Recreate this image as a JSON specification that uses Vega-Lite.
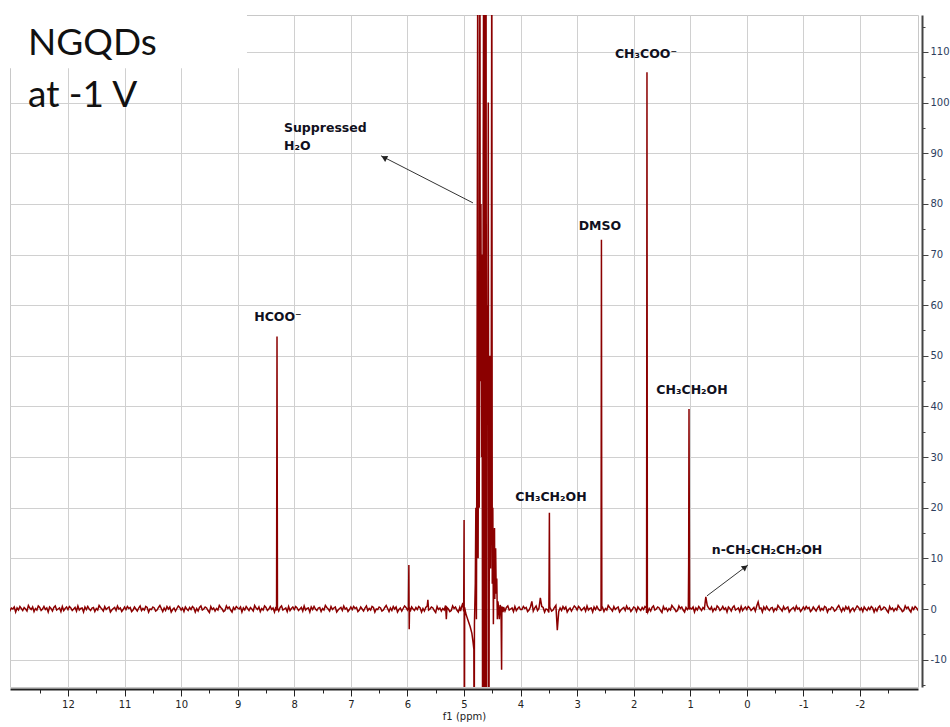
{
  "$schema": "https://vega.github.io/schema/vega-lite/v6.json",
  "width": 908,
  "height": 672,
  "autosize": {"type": "none"},
  "padding": {"left": 10, "top": 15, "right": 32, "bottom": 40},
  "background": "white",
  "config": {
    "view": {"stroke": "#c8c8c8", "strokeWidth": 1},
    "axis": {"labelFont": "DejaVu Sans", "titleFont": "DejaVu Sans"},
    "locale": {"number": {"decimal": ".", "thousands": ",", "grouping": [3], "currency": ["$", ""], "minus": "-"}}
  },
  "resolve": {"axis": {"x": "independent", "y": "independent"}},
  "datasets": {
    "spectrum": [
      {"ppm":-3.05,"int":0.1},{"ppm":-3.025,"int":-0.2},
      {"ppm":-3.0,"int":0.2},{"ppm":-2.975,"int":0.5},{"ppm":-2.95,"int":-0.1},{"ppm":-2.925,"int":0.3},{"ppm":-2.9,"int":-0.6},{"ppm":-2.875,"int":-0.2},{"ppm":-2.85,"int":0.4},{"ppm":-2.825,"int":0.1},{"ppm":-2.8,"int":0.6},{"ppm":-2.775,"int":-0.3},{"ppm":-2.75,"int":-0.5},{"ppm":-2.725,"int":0.0},{"ppm":-2.7,"int":0.3},{"ppm":-2.675,"int":0.7},{"ppm":-2.65,"int":-0.2},{"ppm":-2.625,"int":0.1},{"ppm":-2.6,"int":-0.4},{"ppm":-2.575,"int":0.2},{"ppm":-2.55,"int":-0.1},{"ppm":-2.525,"int":0.5},{"ppm":-2.5,"int":-0.7},{"ppm":-2.475,"int":-0.3},{"ppm":-2.45,"int":0.2},{"ppm":-2.425,"int":0.4},{"ppm":-2.4,"int":0.0},{"ppm":-2.375,"int":-0.2},{"ppm":-2.35,"int":0.6},{"ppm":-2.325,"int":0.3},{"ppm":-2.3,"int":-0.4},{"ppm":-2.275,"int":0.1},{"ppm":-2.25,"int":-0.6},{"ppm":-2.225,"int":0.2},{"ppm":-2.2,"int":0.5},{"ppm":-2.175,"int":-0.1},{"ppm":-2.15,"int":0.3},{"ppm":-2.125,"int":-0.3},{"ppm":-2.1,"int":0.0},{"ppm":-2.075,"int":0.4},{"ppm":-2.05,"int":-0.5},{"ppm":-2.025,"int":0.2},
      {"ppm":-2.0,"int":-0.2},{"ppm":-1.975,"int":0.3},{"ppm":-1.95,"int":0.6},{"ppm":-1.925,"int":0.1},{"ppm":-1.9,"int":-0.4},{"ppm":-1.875,"int":0.2},{"ppm":-1.85,"int":-0.1},{"ppm":-1.825,"int":-0.6},{"ppm":-1.8,"int":0.4},{"ppm":-1.775,"int":0.0},{"ppm":-1.75,"int":0.5},{"ppm":-1.725,"int":-0.3},{"ppm":-1.7,"int":0.2},{"ppm":-1.675,"int":-0.5},{"ppm":-1.65,"int":0.1},{"ppm":-1.625,"int":0.7},{"ppm":-1.6,"int":0.3},{"ppm":-1.575,"int":-0.2},{"ppm":-1.55,"int":-0.4},{"ppm":-1.525,"int":0.2},{"ppm":-1.5,"int":0.4},{"ppm":-1.475,"int":-0.1},{"ppm":-1.45,"int":0.0},{"ppm":-1.425,"int":-0.6},{"ppm":-1.4,"int":0.3},{"ppm":-1.375,"int":0.5},{"ppm":-1.35,"int":-0.2},{"ppm":-1.325,"int":0.1},{"ppm":-1.3,"int":-0.3},{"ppm":-1.275,"int":0.6},{"ppm":-1.25,"int":0.2},{"ppm":-1.225,"int":-0.4},{"ppm":-1.2,"int":0.0},{"ppm":-1.175,"int":0.4},{"ppm":-1.15,"int":-0.2},{"ppm":-1.125,"int":-0.5},{"ppm":-1.1,"int":0.3},{"ppm":-1.075,"int":0.1},{"ppm":-1.05,"int":0.5},{"ppm":-1.025,"int":-0.1},
      {"ppm":-1.0,"int":0.4},{"ppm":-0.975,"int":-0.1},{"ppm":-0.95,"int":-0.5},{"ppm":-0.925,"int":0.2},{"ppm":-0.9,"int":0.0},{"ppm":-0.875,"int":0.6},{"ppm":-0.85,"int":-0.3},{"ppm":-0.825,"int":0.3},{"ppm":-0.8,"int":0.1},{"ppm":-0.775,"int":-0.2},{"ppm":-0.75,"int":-0.6},{"ppm":-0.725,"int":0.4},{"ppm":-0.7,"int":0.2},{"ppm":-0.675,"int":-0.1},{"ppm":-0.65,"int":0.5},{"ppm":-0.625,"int":-0.4},{"ppm":-0.6,"int":0.0},{"ppm":-0.575,"int":0.3},{"ppm":-0.55,"int":0.7},{"ppm":-0.525,"int":-0.2},{"ppm":-0.5,"int":0.1},{"ppm":-0.475,"int":-0.5},{"ppm":-0.45,"int":0.3},{"ppm":-0.425,"int":0.2},{"ppm":-0.4,"int":-0.3},{"ppm":-0.375,"int":0.0},{"ppm":-0.35,"int":0.5},{"ppm":-0.325,"int":-0.1},{"ppm":-0.3,"int":0.4},{"ppm":-0.275,"int":-0.6},{"ppm":-0.25,"int":0.2},{"ppm":-0.225,"int":0.1},{"ppm":-0.2,"int":1.4},{"ppm":-0.175,"int":0.6},{"ppm":-0.15,"int":-0.4},{"ppm":-0.125,"int":0.3},{"ppm":-0.1,"int":0.0},{"ppm":-0.075,"int":-0.3},{"ppm":-0.05,"int":0.2},{"ppm":-0.025,"int":0.5},
      {"ppm":0.0,"int":-0.1},{"ppm":0.025,"int":0.4},{"ppm":0.05,"int":0.1},{"ppm":0.075,"int":-0.3},{"ppm":0.1,"int":0.5},{"ppm":0.125,"int":-0.5},{"ppm":0.15,"int":0.2},{"ppm":0.175,"int":0.0},{"ppm":0.2,"int":-0.2},{"ppm":0.225,"int":0.6},{"ppm":0.25,"int":0.3},{"ppm":0.275,"int":-0.4},{"ppm":0.3,"int":0.1},{"ppm":0.325,"int":0.4},{"ppm":0.35,"int":-0.6},{"ppm":0.375,"int":0.2},{"ppm":0.4,"int":-0.1},{"ppm":0.425,"int":0.5},{"ppm":0.45,"int":0.0},{"ppm":0.475,"int":-0.3},{"ppm":0.5,"int":0.3},{"ppm":0.525,"int":0.6},{"ppm":0.55,"int":-0.2},{"ppm":0.575,"int":0.1},{"ppm":0.6,"int":-0.5},{"ppm":0.625,"int":0.4},{"ppm":0.65,"int":-0.1},{"ppm":0.675,"int":0.2},{"ppm":0.7,"int":0.7},{"ppm":0.725,"int":2.4},{"ppm":0.75,"int":0.0},{"ppm":0.775,"int":0.3},{"ppm":0.8,"int":-0.3},{"ppm":0.825,"int":0.1},{"ppm":0.85,"int":0.5},{"ppm":0.875,"int":-0.2},{"ppm":0.9,"int":0.2},{"ppm":0.925,"int":-0.6},{"ppm":0.95,"int":0.4},{"ppm":0.975,"int":0.0},
      {"ppm":1.0,"int":0.2},{"ppm":1.012,"int":-0.1},{"ppm":1.022,"int":39.5},{"ppm":1.028,"int":9.0},{"ppm":1.034,"int":0.2},{"ppm":1.05,"int":-0.1},{"ppm":1.075,"int":0.3},{"ppm":1.1,"int":-0.6},{"ppm":1.125,"int":-0.2},{"ppm":1.15,"int":0.4},{"ppm":1.175,"int":0.1},{"ppm":1.2,"int":0.6},{"ppm":1.225,"int":-0.3},{"ppm":1.25,"int":-0.5},{"ppm":1.275,"int":0.0},{"ppm":1.3,"int":0.3},{"ppm":1.325,"int":0.7},{"ppm":1.35,"int":-0.2},{"ppm":1.375,"int":0.1},{"ppm":1.4,"int":-0.4},{"ppm":1.425,"int":0.2},{"ppm":1.45,"int":-0.1},{"ppm":1.475,"int":0.5},{"ppm":1.5,"int":-0.7},{"ppm":1.525,"int":-0.3},{"ppm":1.55,"int":0.2},{"ppm":1.575,"int":0.4},{"ppm":1.6,"int":0.0},{"ppm":1.625,"int":-0.2},{"ppm":1.65,"int":0.6},{"ppm":1.675,"int":0.3},{"ppm":1.7,"int":-0.4},{"ppm":1.725,"int":0.1},{"ppm":1.75,"int":-0.6},{"ppm":1.758,"int":0.1},{"ppm":1.765,"int":106.0},{"ppm":1.772,"int":-0.8},{"ppm":1.775,"int":0.2},{"ppm":1.8,"int":0.5},{"ppm":1.825,"int":-0.1},{"ppm":1.85,"int":0.3},{"ppm":1.875,"int":-0.3},{"ppm":1.9,"int":0.0},{"ppm":1.925,"int":0.4},{"ppm":1.95,"int":-0.5},{"ppm":1.975,"int":0.2},
      {"ppm":2.0,"int":0.4},{"ppm":2.025,"int":-0.1},{"ppm":2.05,"int":-0.5},{"ppm":2.075,"int":0.2},{"ppm":2.1,"int":0.0},{"ppm":2.125,"int":0.6},{"ppm":2.15,"int":-0.3},{"ppm":2.175,"int":0.3},{"ppm":2.2,"int":0.1},{"ppm":2.225,"int":-0.2},{"ppm":2.25,"int":-0.6},{"ppm":2.275,"int":0.4},{"ppm":2.3,"int":0.2},{"ppm":2.325,"int":-0.1},{"ppm":2.35,"int":0.5},{"ppm":2.375,"int":-0.4},{"ppm":2.4,"int":0.0},{"ppm":2.425,"int":0.3},{"ppm":2.45,"int":0.7},{"ppm":2.475,"int":-0.2},{"ppm":2.5,"int":0.1},{"ppm":2.525,"int":-0.5},{"ppm":2.55,"int":0.3},{"ppm":2.563,"int":0.2},{"ppm":2.57,"int":72.9},{"ppm":2.577,"int":-0.2},{"ppm":2.6,"int":-0.3},{"ppm":2.625,"int":0.0},{"ppm":2.65,"int":0.5},{"ppm":2.675,"int":-0.1},{"ppm":2.7,"int":0.4},{"ppm":2.725,"int":-0.6},{"ppm":2.75,"int":0.2},{"ppm":2.775,"int":0.1},{"ppm":2.8,"int":-0.2},{"ppm":2.825,"int":0.6},{"ppm":2.85,"int":-0.4},{"ppm":2.875,"int":0.3},{"ppm":2.9,"int":0.0},{"ppm":2.925,"int":-0.3},{"ppm":2.95,"int":0.2},{"ppm":2.975,"int":0.5},
      {"ppm":3.0,"int":-0.2},{"ppm":3.025,"int":0.3},{"ppm":3.05,"int":0.6},{"ppm":3.075,"int":0.1},{"ppm":3.1,"int":-0.4},{"ppm":3.125,"int":0.2},{"ppm":3.15,"int":-0.1},{"ppm":3.175,"int":-0.6},{"ppm":3.2,"int":0.4},{"ppm":3.225,"int":0.0},{"ppm":3.25,"int":0.5},{"ppm":3.275,"int":-0.3},{"ppm":3.3,"int":0.2},{"ppm":3.325,"int":-0.5},{"ppm":3.35,"int":-4.2},{"ppm":3.375,"int":0.7},{"ppm":3.4,"int":0.3},{"ppm":3.425,"int":-0.2},{"ppm":3.45,"int":-0.4},{"ppm":3.475,"int":0.2},{"ppm":3.483,"int":0.5},{"ppm":3.49,"int":19.0},{"ppm":3.496,"int":5.0},{"ppm":3.5,"int":-0.7},{"ppm":3.525,"int":-0.1},{"ppm":3.55,"int":0.0},{"ppm":3.575,"int":-0.6},{"ppm":3.6,"int":0.3},{"ppm":3.625,"int":0.5},{"ppm":3.65,"int":2.2},{"ppm":3.675,"int":0.1},{"ppm":3.7,"int":-0.3},{"ppm":3.725,"int":0.6},{"ppm":3.75,"int":0.2},{"ppm":3.775,"int":-0.4},{"ppm":3.8,"int":1.5},{"ppm":3.825,"int":0.4},{"ppm":3.85,"int":-0.2},{"ppm":3.875,"int":-0.5},{"ppm":3.9,"int":0.3},{"ppm":3.925,"int":0.1},{"ppm":3.95,"int":0.5},{"ppm":3.975,"int":-0.1},
      {"ppm":4.0,"int":-0.1},{"ppm":4.025,"int":0.4},{"ppm":4.05,"int":0.1},{"ppm":4.075,"int":-0.3},{"ppm":4.1,"int":0.5},{"ppm":4.125,"int":-0.5},{"ppm":4.15,"int":0.2},{"ppm":4.175,"int":0.0},{"ppm":4.2,"int":-0.2},{"ppm":4.225,"int":0.6},{"ppm":4.25,"int":0.3},{"ppm":4.275,"int":-0.4},
      {"ppm":4.3,"int":0.4},{"ppm":4.31,"int":-0.6},{"ppm":4.33,"int":0.5},{"ppm":4.335,"int":-12},{"ppm":4.345,"int":0.2},{"ppm":4.36,"int":0.8},{"ppm":4.375,"int":-2},{"ppm":4.39,"int":0.5},{"ppm":4.4,"int":1.5},{"ppm":4.41,"int":-2},{"ppm":4.42,"int":6},{"ppm":4.43,"int":3},{"ppm":4.44,"int":12},{"ppm":4.45,"int":8},{"ppm":4.455,"int":2},{"ppm":4.46,"int":16},{"ppm":4.47,"int":12},{"ppm":4.48,"int":-3},{"ppm":4.49,"int":20},{"ppm":4.5,"int":5},{"ppm":4.508,"int":140},{"ppm":4.52,"int":25},{"ppm":4.53,"int":8},{"ppm":4.54,"int":50},{"ppm":4.55,"int":30},{"ppm":4.56,"int":-40},{"ppm":4.57,"int":100},{"ppm":4.58,"int":40},{"ppm":4.59,"int":60},{"ppm":4.6,"int":-40},{"ppm":4.61,"int":140},{"ppm":4.625,"int":-40},{"ppm":4.635,"int":140},{"ppm":4.645,"int":-40},{"ppm":4.65,"int":140},{"ppm":4.66,"int":90},{"ppm":4.67,"int":-40},{"ppm":4.68,"int":70},{"ppm":4.69,"int":30},{"ppm":4.7,"int":80},{"ppm":4.712,"int":45},{"ppm":4.718,"int":140},{"ppm":4.73,"int":20},{"ppm":4.74,"int":60},{"ppm":4.75,"int":10},{"ppm":4.755,"int":140},{"ppm":4.77,"int":40},{"ppm":4.78,"int":-2},{"ppm":4.79,"int":20},{"ppm":4.8,"int":5},{"ppm":4.815,"int":-3},{"ppm":4.82,"int":-40},{"ppm":4.825,"int":-8},{"ppm":4.84,"int":-6.5},{"ppm":4.86,"int":-4.8},{"ppm":4.89,"int":-3.5},{"ppm":4.92,"int":-2.5},{"ppm":4.95,"int":-1.5},{"ppm":4.97,"int":-0.8},{"ppm":4.988,"int":0.3},{"ppm":4.993,"int":-40},{"ppm":4.998,"int":17.6},{"ppm":5.005,"int":-0.5},{"ppm":5.02,"int":1.2},{"ppm":5.04,"int":0.5},{"ppm":5.06,"int":-0.4},
      {"ppm":5.075,"int":0.3},{"ppm":5.1,"int":-0.6},{"ppm":5.125,"int":-0.2},{"ppm":5.15,"int":0.4},{"ppm":5.175,"int":0.1},{"ppm":5.2,"int":0.6},{"ppm":5.225,"int":-0.3},{"ppm":5.25,"int":-0.5},{"ppm":5.275,"int":0.0},{"ppm":5.3,"int":0.3},{"ppm":5.312,"int":-2.0},{"ppm":5.325,"int":0.7},{"ppm":5.35,"int":-0.2},{"ppm":5.375,"int":0.1},{"ppm":5.4,"int":-0.4},{"ppm":5.425,"int":0.2},{"ppm":5.45,"int":-0.1},{"ppm":5.475,"int":0.5},{"ppm":5.5,"int":-0.7},{"ppm":5.525,"int":-0.3},{"ppm":5.55,"int":0.2},{"ppm":5.575,"int":0.4},{"ppm":5.6,"int":0.0},{"ppm":5.625,"int":-0.2},{"ppm":5.638,"int":1.8},{"ppm":5.65,"int":0.6},{"ppm":5.675,"int":0.3},{"ppm":5.7,"int":-0.4},{"ppm":5.725,"int":0.1},{"ppm":5.75,"int":-0.6},{"ppm":5.775,"int":0.2},{"ppm":5.8,"int":0.5},{"ppm":5.825,"int":-0.1},{"ppm":5.85,"int":0.3},{"ppm":5.875,"int":-0.3},{"ppm":5.9,"int":0.0},{"ppm":5.925,"int":0.4},{"ppm":5.95,"int":-0.5},{"ppm":5.962,"int":0.2},{"ppm":5.968,"int":-4.0},{"ppm":5.974,"int":8.7},{"ppm":5.982,"int":0.3},
      {"ppm":6.0,"int":-0.2},{"ppm":6.025,"int":0.3},{"ppm":6.05,"int":0.6},{"ppm":6.075,"int":0.1},{"ppm":6.1,"int":-0.4},{"ppm":6.125,"int":0.2},{"ppm":6.15,"int":-0.1},{"ppm":6.175,"int":-0.6},{"ppm":6.2,"int":0.4},{"ppm":6.225,"int":0.0},{"ppm":6.25,"int":0.5},{"ppm":6.275,"int":-0.3},{"ppm":6.3,"int":0.2},{"ppm":6.325,"int":-0.5},{"ppm":6.35,"int":0.1},{"ppm":6.375,"int":0.7},{"ppm":6.4,"int":0.3},{"ppm":6.425,"int":-0.2},{"ppm":6.45,"int":-0.4},{"ppm":6.475,"int":0.2},{"ppm":6.5,"int":0.4},{"ppm":6.525,"int":-0.1},{"ppm":6.55,"int":0.0},{"ppm":6.575,"int":-0.6},{"ppm":6.6,"int":0.3},{"ppm":6.625,"int":0.5},{"ppm":6.65,"int":-0.2},{"ppm":6.675,"int":0.1},{"ppm":6.7,"int":-0.3},{"ppm":6.725,"int":0.6},{"ppm":6.75,"int":0.2},{"ppm":6.775,"int":-0.4},{"ppm":6.8,"int":0.0},{"ppm":6.825,"int":0.4},{"ppm":6.85,"int":-0.2},{"ppm":6.875,"int":-0.5},{"ppm":6.9,"int":0.3},{"ppm":6.925,"int":0.1},{"ppm":6.95,"int":0.5},{"ppm":6.975,"int":-0.1},
      {"ppm":7.0,"int":0.4},{"ppm":7.025,"int":-0.1},{"ppm":7.05,"int":-0.5},{"ppm":7.075,"int":0.2},{"ppm":7.1,"int":0.0},{"ppm":7.125,"int":0.6},{"ppm":7.15,"int":-0.3},{"ppm":7.175,"int":0.3},{"ppm":7.2,"int":0.1},{"ppm":7.225,"int":-0.2},{"ppm":7.25,"int":-0.6},{"ppm":7.275,"int":0.4},{"ppm":7.3,"int":0.2},{"ppm":7.325,"int":-0.1},{"ppm":7.35,"int":0.5},{"ppm":7.375,"int":-0.4},{"ppm":7.4,"int":0.0},{"ppm":7.425,"int":0.3},{"ppm":7.45,"int":0.7},{"ppm":7.475,"int":-0.2},{"ppm":7.5,"int":0.1},{"ppm":7.525,"int":-0.5},{"ppm":7.55,"int":0.3},{"ppm":7.575,"int":0.2},{"ppm":7.6,"int":-0.3},{"ppm":7.625,"int":0.0},{"ppm":7.65,"int":0.5},{"ppm":7.675,"int":-0.1},{"ppm":7.7,"int":0.4},{"ppm":7.725,"int":-0.6},{"ppm":7.75,"int":0.2},{"ppm":7.775,"int":0.1},{"ppm":7.8,"int":-0.2},{"ppm":7.825,"int":0.6},{"ppm":7.85,"int":-0.4},{"ppm":7.875,"int":0.3},{"ppm":7.9,"int":0.0},{"ppm":7.925,"int":-0.3},{"ppm":7.95,"int":0.2},{"ppm":7.975,"int":0.5},
      {"ppm":8.0,"int":-0.1},{"ppm":8.025,"int":0.4},{"ppm":8.05,"int":0.1},{"ppm":8.075,"int":-0.3},{"ppm":8.1,"int":0.5},{"ppm":8.125,"int":-0.5},{"ppm":8.15,"int":0.2},{"ppm":8.175,"int":0.0},{"ppm":8.2,"int":-0.2},{"ppm":8.225,"int":0.6},{"ppm":8.25,"int":0.3},{"ppm":8.275,"int":-0.4},{"ppm":8.297,"int":0.2},{"ppm":8.305,"int":53.8},{"ppm":8.313,"int":-0.3},{"ppm":8.325,"int":0.4},{"ppm":8.35,"int":-0.6},{"ppm":8.375,"int":0.2},{"ppm":8.4,"int":-0.1},{"ppm":8.425,"int":0.5},{"ppm":8.45,"int":0.0},{"ppm":8.475,"int":-0.3},{"ppm":8.5,"int":0.3},{"ppm":8.525,"int":0.6},{"ppm":8.55,"int":-0.2},{"ppm":8.575,"int":0.1},{"ppm":8.6,"int":-0.5},{"ppm":8.625,"int":0.4},{"ppm":8.65,"int":-0.1},{"ppm":8.675,"int":0.2},{"ppm":8.7,"int":0.7},{"ppm":8.725,"int":-0.4},{"ppm":8.75,"int":0.0},{"ppm":8.775,"int":0.3},{"ppm":8.8,"int":-0.3},{"ppm":8.825,"int":0.1},{"ppm":8.85,"int":0.5},{"ppm":8.875,"int":-0.2},{"ppm":8.9,"int":0.2},{"ppm":8.925,"int":-0.6},{"ppm":8.95,"int":0.4},{"ppm":8.975,"int":0.0},
      {"ppm":9.0,"int":0.2},{"ppm":9.025,"int":0.5},{"ppm":9.05,"int":-0.1},{"ppm":9.075,"int":0.3},{"ppm":9.1,"int":-0.6},{"ppm":9.125,"int":-0.2},{"ppm":9.15,"int":0.4},{"ppm":9.175,"int":0.1},{"ppm":9.2,"int":0.6},{"ppm":9.225,"int":-0.3},{"ppm":9.25,"int":-0.5},{"ppm":9.275,"int":0.0},{"ppm":9.3,"int":0.3},{"ppm":9.325,"int":0.7},{"ppm":9.35,"int":-0.2},{"ppm":9.375,"int":0.1},{"ppm":9.4,"int":-0.4},{"ppm":9.425,"int":0.2},{"ppm":9.45,"int":-0.1},{"ppm":9.475,"int":0.5},{"ppm":9.5,"int":-0.7},{"ppm":9.525,"int":-0.3},{"ppm":9.55,"int":0.2},{"ppm":9.575,"int":0.4},{"ppm":9.6,"int":0.0},{"ppm":9.625,"int":-0.2},{"ppm":9.65,"int":0.6},{"ppm":9.675,"int":0.3},{"ppm":9.7,"int":-0.4},{"ppm":9.725,"int":0.1},{"ppm":9.75,"int":-0.6},{"ppm":9.775,"int":0.2},{"ppm":9.8,"int":0.5},{"ppm":9.825,"int":-0.1},{"ppm":9.85,"int":0.3},{"ppm":9.875,"int":-0.3},{"ppm":9.9,"int":0.0},{"ppm":9.925,"int":0.4},{"ppm":9.95,"int":-0.5},{"ppm":9.975,"int":0.2},
      {"ppm":10.0,"int":-0.2},{"ppm":10.025,"int":0.3},{"ppm":10.05,"int":0.6},{"ppm":10.075,"int":0.1},{"ppm":10.1,"int":-0.4},{"ppm":10.125,"int":0.2},{"ppm":10.15,"int":-0.1},{"ppm":10.175,"int":-0.6},{"ppm":10.2,"int":0.4},{"ppm":10.225,"int":0.0},{"ppm":10.25,"int":0.5},{"ppm":10.275,"int":-0.3},{"ppm":10.3,"int":0.2},{"ppm":10.325,"int":-0.5},{"ppm":10.35,"int":0.1},{"ppm":10.375,"int":0.7},{"ppm":10.4,"int":0.3},{"ppm":10.425,"int":-0.2},{"ppm":10.45,"int":-0.4},{"ppm":10.475,"int":0.2},{"ppm":10.5,"int":0.4},{"ppm":10.525,"int":-0.1},{"ppm":10.55,"int":0.0},{"ppm":10.575,"int":-0.6},{"ppm":10.6,"int":0.3},{"ppm":10.625,"int":0.5},{"ppm":10.65,"int":-0.2},{"ppm":10.675,"int":0.1},{"ppm":10.7,"int":-0.3},{"ppm":10.725,"int":0.6},{"ppm":10.75,"int":0.2},{"ppm":10.775,"int":-0.4},{"ppm":10.8,"int":0.0},{"ppm":10.825,"int":0.4},{"ppm":10.85,"int":-0.2},{"ppm":10.875,"int":-0.5},{"ppm":10.9,"int":0.3},{"ppm":10.925,"int":0.1},{"ppm":10.95,"int":0.5},{"ppm":10.975,"int":-0.1},
      {"ppm":11.0,"int":0.4},{"ppm":11.025,"int":-0.1},{"ppm":11.05,"int":-0.5},{"ppm":11.075,"int":0.2},{"ppm":11.1,"int":0.0},{"ppm":11.125,"int":0.6},{"ppm":11.15,"int":-0.3},{"ppm":11.175,"int":0.3},{"ppm":11.2,"int":0.1},{"ppm":11.225,"int":-0.2},{"ppm":11.25,"int":-0.6},{"ppm":11.275,"int":0.4},{"ppm":11.3,"int":0.2},{"ppm":11.325,"int":-0.1},{"ppm":11.35,"int":0.5},{"ppm":11.375,"int":-0.4},{"ppm":11.4,"int":0.0},{"ppm":11.425,"int":0.3},{"ppm":11.45,"int":0.7},{"ppm":11.475,"int":-0.2},{"ppm":11.5,"int":0.1},{"ppm":11.525,"int":-0.5},{"ppm":11.55,"int":0.3},{"ppm":11.575,"int":0.2},{"ppm":11.6,"int":-0.3},{"ppm":11.625,"int":0.0},{"ppm":11.65,"int":0.5},{"ppm":11.675,"int":-0.1},{"ppm":11.7,"int":0.4},{"ppm":11.725,"int":-0.6},{"ppm":11.75,"int":0.2},{"ppm":11.775,"int":0.1},{"ppm":11.8,"int":-0.2},{"ppm":11.825,"int":0.6},{"ppm":11.85,"int":-0.4},{"ppm":11.875,"int":0.3},{"ppm":11.9,"int":0.0},{"ppm":11.925,"int":-0.3},{"ppm":11.95,"int":0.2},{"ppm":11.975,"int":0.5},
      {"ppm":12.0,"int":-0.1},{"ppm":12.025,"int":0.4},{"ppm":12.05,"int":0.1},{"ppm":12.075,"int":-0.3},{"ppm":12.1,"int":0.5},{"ppm":12.125,"int":-0.5},{"ppm":12.15,"int":0.2},{"ppm":12.175,"int":0.0},{"ppm":12.2,"int":-0.2},{"ppm":12.225,"int":0.6},{"ppm":12.25,"int":0.3},{"ppm":12.275,"int":-0.4},{"ppm":12.3,"int":0.1},{"ppm":12.325,"int":0.4},{"ppm":12.35,"int":-0.6},{"ppm":12.375,"int":0.2},{"ppm":12.4,"int":-0.1},{"ppm":12.425,"int":0.5},{"ppm":12.45,"int":0.0},{"ppm":12.475,"int":-0.3},{"ppm":12.5,"int":0.3},{"ppm":12.525,"int":0.6},{"ppm":12.55,"int":-0.2},{"ppm":12.575,"int":0.1},{"ppm":12.6,"int":-0.5},{"ppm":12.625,"int":0.4},{"ppm":12.65,"int":-0.1},{"ppm":12.675,"int":0.2},{"ppm":12.7,"int":0.7},{"ppm":12.725,"int":-0.4},{"ppm":12.75,"int":0.0},{"ppm":12.775,"int":0.3},{"ppm":12.8,"int":-0.3},{"ppm":12.825,"int":0.1},{"ppm":12.85,"int":0.5},{"ppm":12.875,"int":-0.2},{"ppm":12.9,"int":0.2},{"ppm":12.925,"int":-0.6},{"ppm":12.95,"int":0.4},{"ppm":12.975,"int":0.0},
      {"ppm":13.0,"int":0.2},{"ppm":13.025,"int":-0.3},{"ppm":13.05,"int":0.1}
    ]
  },
  "layer": [
    {
      "data": {"values": [{"x1": 13.4, "x2": 8.836, "y1": 119.0, "y2": 106.8}]},
      "mark": {"type": "rect", "color": "white"},
      "encoding": {
        "x": {
          "field": "x1", "type": "quantitative",
          "scale": {"domain": [-3.026, 13.025], "reverse": true, "nice": false, "zero": false},
          "axis": {
            "orient": "bottom",
            "title": null,
            "values": [-2.5, -1.5, -0.5, 0.5, 1.5, 2.5, 3.5, 4.5, 5.5, 6.5, 7.5, 8.5, 9.5, 10.5, 11.5, 12.5],
            "labels": false, "grid": false, "domain": false,
            "tickSize": 4, "tickColor": "#222", "offset": 2
          }
        },
        "x2": {"field": "x2"},
        "y": {
          "field": "y1", "type": "quantitative",
          "scale": {"domain": [-15.4, 117.3], "nice": false, "zero": false},
          "axis": {
            "orient": "right", "title": null,
            "values": [-15, -5, 5, 15, 25, 35, 45, 55, 65, 75, 85, 95, 105, 115],
            "labels": false, "grid": false, "domain": false,
            "tickSize": 3, "tickColor": "#444", "offset": 4
          }
        },
        "y2": {"field": "y2"}
      }
    },
    {
      "data": {"name": "spectrum"},
      "mark": {"type": "line", "color": "#8B0000", "strokeWidth": 1.5, "clip": true},
      "encoding": {
        "x": {
          "field": "ppm", "type": "quantitative",
          "scale": {"domain": [-3.026, 13.025], "reverse": true, "nice": false, "zero": false},
          "axis": {
            "orient": "bottom",
            "title": "f1 (ppm)",
            "titleFontSize": 10,
            "titleFontWeight": "normal",
            "titleColor": "#222",
            "titlePadding": 2,
            "values": [-2, -1, 0, 1, 2, 3, 4, 5, 6, 7, 8, 9, 10, 11, 12],
            "format": "d",
            "labelFontSize": 10,
            "labelColor": "#222",
            "labelPadding": 3,
            "grid": true,
            "gridColor": "#d0d0d0",
            "tickSize": 7,
            "tickColor": "#222",
            "domainColor": "#222",
            "domainWidth": 2,
            "offset": 2
          }
        },
        "y": {
          "field": "int", "type": "quantitative",
          "scale": {"domain": [-15.4, 117.3], "nice": false, "zero": false},
          "axis": {
            "orient": "right",
            "title": null,
            "values": [-10, 0, 10, 20, 30, 40, 50, 60, 70, 80, 90, 100, 110],
            "format": "d",
            "labelFontSize": 10,
            "labelColor": "#2d3e5e",
            "labelPadding": 2,
            "grid": true,
            "gridColor": "#d0d0d0",
            "tickSize": 6,
            "tickColor": "#444",
            "domainColor": "#444",
            "domainWidth": 2,
            "offset": 4
          }
        }
      }
    },
    {
      "data": {"values": [{"x1": 4.841, "y1": 80.2, "x2": 6.467, "y2": 89.5}, {"x1": 0.704, "y1": 2.6, "x2": -0.021, "y2": 8.7}]},
      "mark": {"type": "rule", "color": "#333", "strokeWidth": 1},
      "encoding": {
        "x": {"field": "x1", "type": "quantitative", "axis": null},
        "y": {"field": "y1", "type": "quantitative", "axis": null},
        "x2": {"field": "x2"},
        "y2": {"field": "y2"}
      }
    },
    {
      "data": {"values": [{"x": 6.412, "y": 89.14}]},
      "mark": {"type": "point", "shape": "triangle-up", "filled": true, "color": "#222", "size": 45, "angle": 297, "opacity": 1},
      "encoding": {
        "x": {"field": "x", "type": "quantitative", "axis": null},
        "y": {"field": "y", "type": "quantitative", "axis": null}
      }
    },
    {
      "data": {"values": [{"x": 0.029, "y": 8.27}]},
      "mark": {"type": "point", "shape": "triangle-up", "filled": true, "color": "#222", "size": 45, "angle": 53, "opacity": 1},
      "encoding": {
        "x": {"field": "x", "type": "quantitative", "axis": null},
        "y": {"field": "y", "type": "quantitative", "axis": null}
      }
    },
    {
      "data": {"values": [
        {"label": "HCOO⁻", "x": 8.288, "y": 56.9},
        {"label": "DMSO", "x": 2.596, "y": 74.8},
        {"label": "CH₃COO⁻", "x": 1.782, "y": 108.8},
        {"label": "CH₃CH₂OH", "x": 0.969, "y": 42.5},
        {"label": "CH₃CH₂OH", "x": 3.462, "y": 21.3},
        {"label": "n-CH₃CH₂CH₂OH", "x": -0.357, "y": 10.9}
      ]},
      "mark": {"type": "text", "font": "DejaVu Sans", "fontWeight": "bold", "fontSize": 12.5, "color": "#101020", "align": "center", "baseline": "alphabetic"},
      "encoding": {
        "x": {"field": "x", "type": "quantitative", "axis": null},
        "y": {"field": "y", "type": "quantitative", "axis": null},
        "text": {"field": "label"}
      }
    },
    {
      "data": {"values": [
        {"label": "Suppressed", "x": 8.182, "y": 94.2},
        {"label": "H₂O", "x": 8.182, "y": 90.6}
      ]},
      "mark": {"type": "text", "font": "DejaVu Sans", "fontWeight": "bold", "fontSize": 12.5, "color": "#101020", "align": "left", "baseline": "alphabetic"},
      "encoding": {
        "x": {"field": "x", "type": "quantitative", "axis": null},
        "y": {"field": "y", "type": "quantitative", "axis": null},
        "text": {"field": "label"}
      }
    },
    {
      "data": {"values": [
        {"label": "NGQDs", "x": 12.707, "y": 109.4},
        {"label": "at -1 V", "x": 12.707, "y": 99.1}
      ]},
      "mark": {"type": "text", "font": "Lato", "fontSize": 37, "color": "#111", "align": "left", "baseline": "alphabetic"},
      "encoding": {
        "x": {"field": "x", "type": "quantitative", "axis": null},
        "y": {"field": "y", "type": "quantitative", "axis": null},
        "text": {"field": "label"}
      }
    }
  ]
}
